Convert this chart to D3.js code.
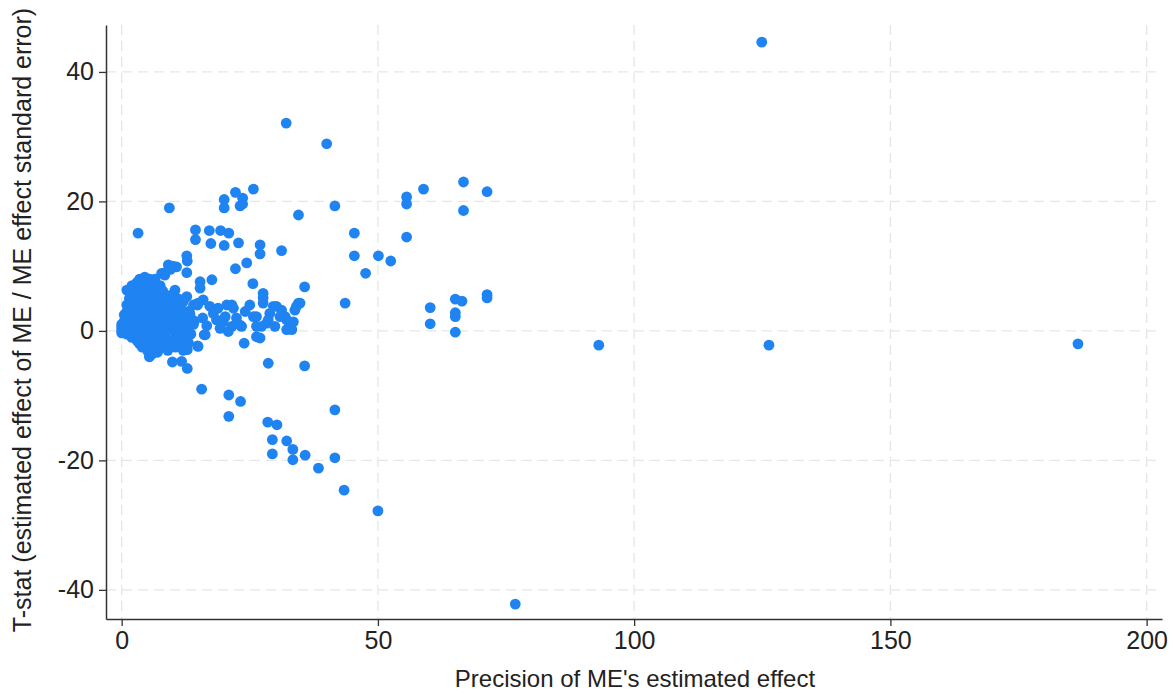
<!DOCTYPE html>
<html>
<head>
<meta charset="utf-8">
<script src="https://cdn.jsdelivr.net/npm/d3@7"></script>
<style>
  body { margin: 0; background: #fff; }
  svg { display: block; font-family: "Liberation Sans", Arial, sans-serif; }
</style>
</head>
<body>
<svg width="1176" height="695"></svg>
<script>
const xTicks = [0, 50, 100, 150, 200];
const yTicks = [-40, -20, 0, 20, 40];
const xTitle = "Precision of ME's estimated effect";
const yTitle = "T-stat (estimated effect of ME / ME effect standard error)";

// precision values and t-stats
const outlierX = [124.9, 126.3, 93.1, 186.6, 76.8, 32.1, 40.0, 50.0, 43.4, 3.2, 9.3, 58.9, 66.7, 71.3, 66.7, 55.6, 55.6, 55.6, 41.6, 34.5, 45.4, 45.4, 50.1, 52.5, 47.6, 31.2, 25.7, 22.2, 23.6, 20.0, 20.0, 23.1, 23.6, 17.1, 19.3, 20.9, 14.4, 14.4, 17.4, 20.0, 22.8, 27.0, 27.0, 24.4, 22.2, 17.6, 12.7, 12.8, 25.6, 35.7, 43.6, 60.2, 60.2, 65.1, 66.4, 65.1, 65.1, 65.1, 71.3, 71.3, 23.9, 28.6, 35.7, 9.9, 11.7, 12.8, 5.4, 14.8, 16.1, 12.8];
const outlierY = [44.6, -2.2, -2.2, -2.0, -42.2, 32.1, 28.9, -27.8, -24.6, 15.1, 19.0, 21.9, 23.0, 21.5, 18.6, 20.7, 19.6, 14.5, 19.3, 17.9, 15.1, 11.6, 11.6, 10.8, 8.9, 12.4, 21.9, 21.4, 20.5, 20.3, 19.0, 19.3, 19.6, 15.5, 15.5, 15.1, 15.6, 14.1, 13.5, 13.2, 13.6, 13.3, 11.9, 10.5, 9.6, 7.9, 11.6, 10.8, 7.3, 6.8, 4.3, 3.6, 1.1, 4.9, 4.6, 2.8, 2.2, -0.2, 5.6, 5.1, -1.9, -5.0, -5.4, -4.8, -4.7, -5.8, -4.0, -2.3, -0.6, -2.9];

const negX = [15.6, 20.9, 23.2, 20.9, 41.6, 28.5, 30.3, 29.4, 32.2, 33.4, 29.4, 33.4, 35.8, 41.6, 38.4];
const negY = [-9.0, -9.9, -10.9, -13.2, -12.2, -14.1, -14.5, -16.8, -17.0, -18.3, -19.0, -19.9, -19.2, -19.6, -21.2];

const midX = [17.9, 18.8, 20.5, 21.8, 18.5, 20.2, 22.4, 21.5, 19.2, 23.4, 20.8, 17.2, 21.5, 24.1, 19.8, 23.1,
  27.6, 27.6, 25.0, 27.6, 30.2, 34.5, 33.8, 26.3, 28.9, 30.9, 32.2, 33.5, 26.3, 28.3, 29.9, 32.2, 27.0, 26.3, 34.1, 34.8, 29.6, 31.2, 25.7, 28.6, 27.3, 31.9, 33.2];
const midY = [2.7, 3.5, 4.0, 3.5, 1.7, 2.2, 2.0, 0.7, 0.4, 0.7, -0.1, 3.8, 4.0, 3.0, 1.4, 0.9,
  5.8, 5.1, 4.0, 4.3, 3.8, 4.3, 3.2, 2.2, 2.7, 2.2, 1.7, 1.4, 0.7, 1.2, 0.7, 0.2, -1.1, -0.9, 3.8, 4.3, 3.8, 3.2, 2.2, 1.7, 0.7, 2.2, 0.2];

const edgeX = [8.4, 10.7, 12.7, 9.1, 7.8, 4.2, 15.3, 15.3, 15.9, 14.9, 10.1, 12.0, 12.7, 10.4, 14.8, 13.3, 16.3, 14.9, 5.5, 1.0, 15.8, 16.6, 14.2];
const edgeY = [8.6, 9.9, 9.0, 10.2, 8.9, 7.9, 7.6, 6.6, 4.8, 4.3, 4.8, 4.8, 5.3, 6.3, 4.0, 2.7, -0.6, -2.4, -3.9, 6.3, 2.0, 0.8, 1.5];

const coreX = [0, 0, 0, 0, 0.5, 0.5, 0.5, 1, 1, 1, 1, 1, 1.5, 1.5, 1.5, 1.5,
  2, 2, 2, 2, 2, 2, 2, 2.5, 2.5, 2.5, 2.5, 3, 3, 3, 3, 3, 3, 3, 3, 3.5, 3.5, 3.5, 3.5,
  4, 4, 4, 4, 4, 4, 4, 4, 4.5, 4.5, 4.5, 4.5, 5, 5, 5, 5, 5, 5, 5, 5, 5, 5.5, 5.5, 5.5, 5.5,
  6, 6, 6, 6, 6, 6, 6, 6, 6.5, 6.5, 6.5, 6.5, 6.5, 7, 7, 7, 7, 7, 7, 7, 7, 7.5, 7.5, 7.5, 7.5,
  8, 8, 8, 8, 8, 8, 8.5, 8.5, 8.5, 8.5, 9, 9, 9, 9, 9, 9.5, 9.5, 9.5, 9.5, 10, 10, 10, 10, 10,
  10.5, 10.5, 10.5, 11, 11, 11, 11, 11.5, 11.5, 11.5, 12, 12, 12, 12, 12.5, 12.5, 13, 13, 13, 13.5, 13.5, 14, 14];
const coreY = [0, 0.5, 1, -0.3, 1.5, 2.5, 0.2, 3, 4, 1, -0.5, 2, 5, 2.5, 0, 3.5,
  7, 5.5, 4, 3, 1.5, 0.5, -1, 6, 2, -0.5, 4.5, 7.5, 6, 5, 3.5, 2, 1, 0, -1.5, 8, 4, 2.5, -2,
  7, 5.5, 4.5, 3, 1.5, 0.5, -0.5, -2.5, 8.3, 6.5, 2, -1, 7.5, 6, 5, 3.5, 2.5, 1, 0, -1.5, -3, 8, 4, 2, -0.5,
  7, 5.5, 3, 1.5, 0.5, -1, -2.5, -3.5, 6.5, 4.5, 2.5, 0, 8, 6, 5, 3.5, 2, 1, -0.5, -2, -3.3, 7, 3, 0.5, -1.5,
  6.2, 4, 2.5, 1.5, 0, -2.5, 5, 3, -1, 9, 4.5, 2, 0.5, -2, -3, 5.5, 3.5, 1, 9.5, 4, 2.5, 0, -1.5, 10,
  3, 1.5, -2.5, 5, 2, 0, -1, 3.5, 1, -2, 4.5, 2.5, 0, -3, 1.5, -1, 3, 0.5, -1.8, 2, -0.5, 1, 4];

const data = [];
[[outlierX, outlierY], [negX, negY], [midX, midY], [edgeX, edgeY], [coreX, coreY]].forEach(([xs, ys]) => {
  xs.forEach((v, i) => data.push({ prec: v, t: ys[i] }));
});

const svg = d3.select("svg");
const plotLeft = 106, plotRight = 1162, plotTop = 25, plotBottom = 619;

const x = d3.scaleLinear().domain([-3.06, 203.0]).range([plotLeft, plotRight]);
const y = d3.scaleLinear().domain([-44.5, 47.25]).range([plotBottom, plotTop]);

const grid = svg.append("g").attr("class", "grid")
  .attr("stroke", "#e6e6e6").attr("stroke-width", 1.3).attr("stroke-dasharray", "10,6");

grid.selectAll(".gx").data(xTicks).join("line")
  .attr("x1", (d) => x(d)).attr("x2", (d) => x(d))
  .attr("y1", plotTop).attr("y2", plotBottom);

grid.selectAll(".gy").data(yTicks).join("line")
  .attr("x1", plotLeft).attr("x2", plotRight)
  .attr("y1", (d) => y(d)).attr("y2", (d) => y(d));

svg.append("g")
  .selectAll("circle")
  .data(data)
  .join("circle")
  .attr("cx", (d) => x(d.prec))
  .attr("cy", (d) => y(d.t))
  .attr("r", 5.4)
  .attr("fill", "#1f84f2");

// plain hyphen for negatives, as in the original
const plain = (d) => String(d);

const xAxis = svg.append("g")
  .attr("transform", `translate(0,${plotBottom})`)
  .call(d3.axisBottom(x).tickValues(xTicks).tickFormat(plain).tickSize(7).tickPadding(5).tickSizeOuter(0));

const yAxis = svg.append("g")
  .attr("transform", `translate(${plotLeft},0)`)
  .call(d3.axisLeft(y).tickValues(yTicks).tickFormat(plain).tickSize(7).tickPadding(5).tickSizeOuter(0));

[xAxis, yAxis].forEach((ax) => {
  ax.select(".domain").attr("stroke", "#333").attr("stroke-width", 1.5);
  ax.selectAll(".tick line").attr("stroke", "#333").attr("stroke-width", 1.3);
  ax.selectAll(".tick text")
    .attr("fill", "#222")
    .style("font-size", "25px")
    .style("font-family", "'Liberation Sans', Arial, sans-serif");
});

svg.append("text")
  .attr("x", 635)
  .attr("y", 687)
  .attr("text-anchor", "middle")
  .attr("fill", "#222")
  .style("font-size", "24px")
  .text(xTitle);

svg.append("text")
  .attr("transform", `translate(31,320) rotate(-90)`)
  .attr("text-anchor", "middle")
  .attr("fill", "#222")
  .style("font-size", "25px")
  .text(yTitle);
</script>
</body>
</html>
